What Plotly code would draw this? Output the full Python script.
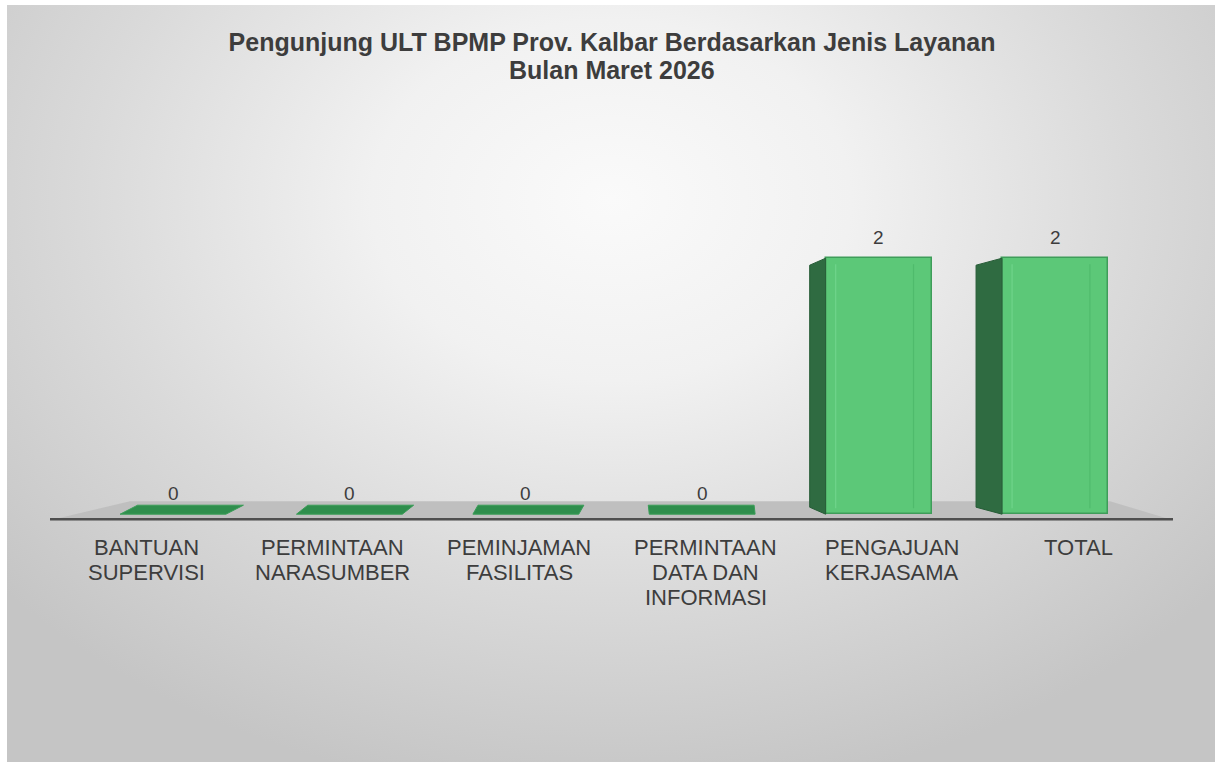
import base64
import plotly.graph_objects as go

# ---- data -------------------------------------------------------------
categories = [
    "BANTUAN\nSUPERVISI",
    "PERMINTAAN\nNARASUMBER",
    "PEMINJAMAN\nFASILITAS",
    "PERMINTAAN\nDATA DAN\nINFORMASI",
    "PENGAJUAN\nKERJASAMA",
    "TOTAL",
]
values = [0, 0, 0, 0, 2, 2]
title_lines = [
    "Pengunjung ULT BPMP Prov. Kalbar Berdasarkan Jenis Layanan",
    "Bulan Maret 2026",
]

# ---- page geometry ----------------------------------------------------
W, H = 1215, 762
L, R, T, B = 46, 41, 143, 235
plot_w = W - L - R
plot_h = H - T - B
Y_RANGE = [-0.1, 2.9]
uy = plot_h / (Y_RANGE[1] - Y_RANGE[0])          # px per value unit

# bars sit deeper in the 3-D scene than the labels, so they get their own axis
BAR_X0, BAR_STEP = 173, 176.4
LAB_X0, LAB_STEP = 146, 186.5
x_bar_range = [(L - BAR_X0) / BAR_STEP, (W - R - BAR_X0) / BAR_STEP]
x_lab_range = [(L - LAB_X0) / LAB_STEP, (W - R - LAB_X0) / LAB_STEP]
ux = BAR_STEP                                     # px per category unit
BW = 0.60                                         # bar width (category units)

FONT = "Liberation Sans, Arial, sans-serif"
TXT = "#3d3d3d"
FRONT = "#5cc878"
EDGE = "#3f9d5a"
SIDE = "#2f6b41"
FLAT = "#2f8e4d"

idx = list(range(len(categories)))

fig = go.Figure()

# ---- perspective faces ------------------------------------------------
for i, v in zip(idx, values):
    xl = i - BW / 2
    xr = i + BW / 2
    front_left_px = BAR_X0 + BAR_STEP * xl
    if v > 0:
        d = 0.0568 * (544 - front_left_px) / ux
        k = 7 / uy
        fig.add_trace(go.Scatter(
            x=[xl, xl, xl + d, xl + d, xl],
            y=[0, v, v - k, k, 0],
            mode="lines", fill="toself", fillcolor=SIDE,
            line=dict(color="#275c37", width=1),
            hoverinfo="skip", showlegend=False,
        ))
        # bevel highlights on the front face
        for xx, col in ((xl + 10 / ux, "#6fd48b"), (xr - 18 / ux, "#4fbb6c")):
            fig.add_trace(go.Scatter(
                x=[xx, xx], y=[6 / uy, v - 6 / uy], mode="lines",
                line=dict(color=col, width=1.2),
                hoverinfo="skip", showlegend=False,
            ))
    else:
        d = 0.035 * (620 - front_left_px) / ux
        k = 9 / uy
        fig.add_trace(go.Scatter(
            x=[xl, xr, xr + d, xl + d, xl],
            y=[0, 0, k, k, 0],
            mode="lines", fill="toself", fillcolor=FLAT,
            line=dict(color="#3a9d58", width=1),
            hoverinfo="skip", showlegend=False,
        ))

# ---- front faces ------------------------------------------------------
fig.add_trace(go.Bar(
    x=idx, y=values, width=BW,
    marker=dict(color=FRONT,
                line=dict(color=EDGE, width=[0 if v == 0 else 1.5 for v in values])),
    hoverinfo="skip", showlegend=False,
))

# ---- value labels -----------------------------------------------------
for i, v in zip(idx, values):
    fig.add_annotation(
        x=i, y=v, xref="x", yref="y", text=str(v), showarrow=False,
        yshift=21, yanchor="middle",
        font=dict(family=FONT, size=19, color=TXT),
    )

# ---- category labels (one line each, tight leading) --------------------
for i, cat in zip(idx, categories):
    for j, line in enumerate(cat.split("\n")):
        fig.add_annotation(
            x=i, y=0, xref="x2", yref="paper", text=line, showarrow=False,
            yanchor="middle", yshift=-(20 + 25 * j),
            font=dict(family=FONT, size=22, color=TXT),
        )

# ---- floor ------------------------------------------------------------
fx0, fx1 = (50 - BAR_X0) / ux, (1173 - BAR_X0) / ux
bx0, bx1 = (130 - BAR_X0) / ux, (1110 - BAR_X0) / ux
fy, by = -6 / uy, 13 / uy
shapes = [
    dict(type="path", xref="x", yref="y", layer="below",
         path=f"M {fx0},{fy} L {fx1},{fy} L {bx1},{by} L {bx0},{by} Z",
         fillcolor="#bfbfbf", line=dict(width=0)),
    dict(type="line", xref="x", yref="y", layer="below",
         x0=fx0, x1=fx1, y0=-5 / uy, y1=-5 / uy,
         line=dict(color="#4f4f4f", width=2.5)),
]

# ---- chart-area background (radial gradient) ---------------------------
bgx, bgy = 7, 5
bw, bh = W - bgx, H - bgy
cx, cy, rx, ry = 604, 195, 800, 600
svg = (
    f'<svg xmlns="http://www.w3.org/2000/svg" width="{bw}" height="{bh}" '
    f'viewBox="0 0 {bw} {bh}"><defs>'
    f'<radialGradient id="g" gradientUnits="userSpaceOnUse" cx="{cx}" cy="{cy}" r="{rx}" '
    f'gradientTransform="translate({cx} {cy}) scale(1 {ry / rx}) translate({-cx} {-cy})">'
    '<stop offset="0" stop-color="#fafafa"/>'
    '<stop offset="0.3" stop-color="#f1f1f1"/>'
    '<stop offset="0.65" stop-color="#dadada"/>'
    '<stop offset="1" stop-color="#c5c5c5"/>'
    '</radialGradient></defs>'
    '<rect width="100%" height="100%" fill="url(#g)"/></svg>'
)
bg_src = "data:image/svg+xml;base64," + base64.b64encode(svg.encode()).decode()

fig.update_layout(
    width=W, height=H,
    margin=dict(l=L, r=R, t=T, b=B, pad=0),
    paper_bgcolor="white", plot_bgcolor="rgba(0,0,0,0)",
    images=[dict(source=bg_src, xref="paper", yref="paper",
                 x=(bgx - L) / plot_w, y=1 + (T - bgy) / plot_h,
                 sizex=bw / plot_w, sizey=bh / plot_h,
                 xanchor="left", yanchor="top", sizing="stretch", layer="below")],
    shapes=shapes,
    title=dict(text=title_lines[0], x=612 / W, xanchor="center",
               y=1 - 42 / H, yanchor="middle", yref="container",
               font=dict(family=FONT, size=25, color=TXT, weight="bold")),
    xaxis=dict(range=x_bar_range, visible=False, fixedrange=True),
    xaxis2=dict(range=x_lab_range, overlaying="x", anchor="y", visible=False,
                fixedrange=True),
    yaxis=dict(range=Y_RANGE, visible=False, fixedrange=True),
    bargap=0,
)
fig.add_annotation(
    x=(612 - L) / plot_w, y=1 + (T - 70) / plot_h, xref="paper", yref="paper",
    text=title_lines[1], showarrow=False, xanchor="center", yanchor="middle",
    font=dict(family=FONT, size=25, color=TXT, weight="bold"),
)

fig.write_html("out.html")
